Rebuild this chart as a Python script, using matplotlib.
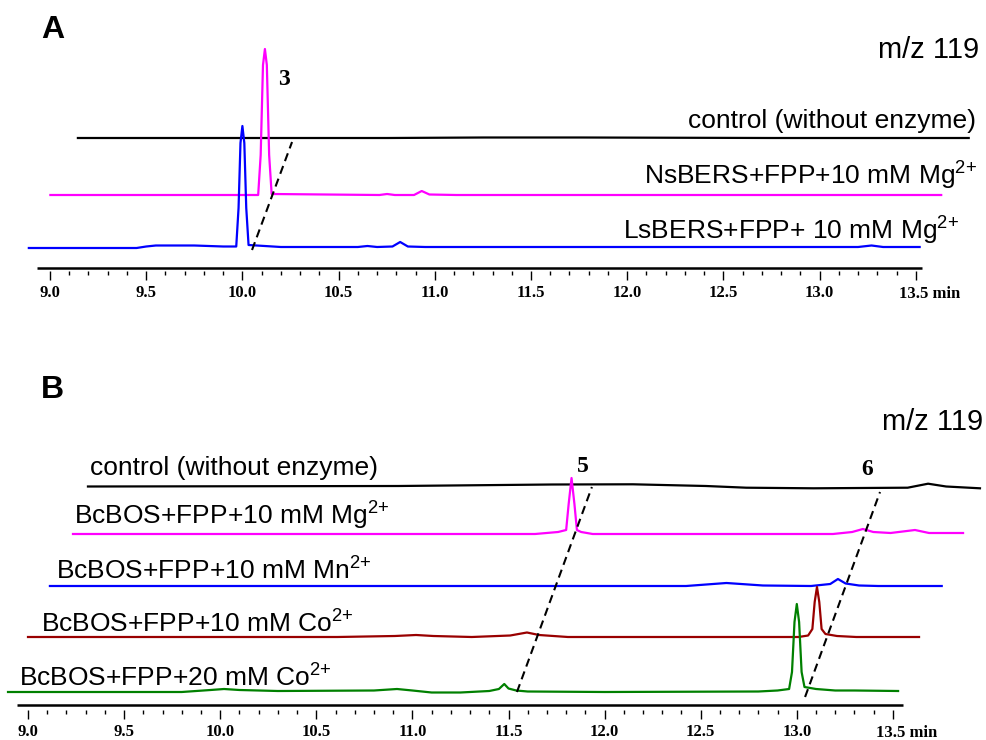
import matplotlib
matplotlib.use("Agg")
import matplotlib.pyplot as plt
from matplotlib.ticker import FixedLocator, FixedFormatter
import numpy as np

plt.rcParams['font.family'] = ['Liberation Sans', 'DejaVu Sans']
plt.rcParams['mathtext.default'] = 'regular'

# ---------------- data (time in min, intensity in arbitrary units) ----------------
# panel A : m/z 119
a_names = ["control (without enzyme)",
           "NsBERS+FPP+10 mM Mg$^{2{+}}$",
           "LsBERS+FPP+ 10 mM Mg$^{2{+}}$"]

a_ctrl_t = [8.89, 10.5, 11.0, 11.5, 12.5, 13.52]
a_ctrl_y = [0, 0, 0.5, 0.5, 0, 0]

a_ns_t = [8.89, 9.97, 9.983, 9.995, 10.005, 10.015, 10.027, 10.04, 10.6, 10.64, 10.68,
          10.78, 10.82, 10.86, 11.0, 13.52]
a_ns_y = [0, 0, 40, 130, 146, 130, 40, 1, 0, 1, 0, 0, 4, 0.5, 0, 0]

a_ls_t = [8.89, 9.45, 9.50, 9.55, 9.75, 9.90, 9.968, 9.98, 9.99, 10.0, 10.01, 10.02, 10.032,
          10.2, 10.6, 10.65, 10.7, 10.78, 10.82, 10.86, 10.95, 12.0, 13.2, 13.27, 13.33, 13.52]
a_ls_y = [0, 0, 1.5, 2.5, 2.5, 1.5, 1.5, 40, 105, 122, 105, 40, 3,
          1, 1, 2, 1, 1.5, 6, 1.5, 1, 1, 1, 2.5, 1, 1]

# panel B : m/z 119
b_names = ["control (without enzyme)",
           "BcBOS+FPP+10 mM Mg$^{2{+}}$",
           "BcBOS+FPP+10 mM Mn$^{2{+}}$",
           "BcBOS+FPP+10 mM Co$^{2{+}}$",
           "BcBOS+FPP+20 mM Co$^{2{+}}$"]

b_ctrl_t = [8.885, 10.5, 11.3, 11.72, 12.1, 12.31, 12.66, 13.15, 13.256, 13.35, 13.526]
b_ctrl_y = [-0.5, 0, 1.5, 1.7, 0, -1.7, -2.3, -1.7, 2.3, -0.5, -2.3]

b_mg_t = [8.896, 11.3, 11.42, 11.462, 11.475, 11.49, 11.505, 11.518, 11.54, 11.6, 12.5,
          12.85, 12.95, 13.006, 13.06, 13.15, 13.277, 13.35, 13.527]
b_mg_y = [0, 0, 2, 4, 30, 56, 30, 4, 2, 0, 0, 0, 2, 5, 2, 1, 4, 1, 1]

b_mn_t = [8.89, 11.0, 12.2, 12.41, 12.6, 12.85, 12.95, 12.99, 13.03, 13.1, 13.2, 13.53]
b_mn_y = [0, 0, 0, 3, 0.5, 0, 2, 7, 2.5, 0.5, 0, 0]

b_co10_t = [8.891, 10.5, 10.8, 10.91, 11.0, 11.2, 11.4, 11.487, 11.55, 11.7, 12.0, 12.9,
            12.95, 12.972, 12.984, 12.996, 13.008, 13.02, 13.04, 13.1, 13.2, 13.527]
b_co10_y = [0, 0, 1, 2, 1, 0, 1.5, 4.5, 2, 0, 0, 0, 1.5, 8, 35, 50, 35, 8, 3, 1, 0, 0]

b_co20_t = [8.896, 9.8, 9.95, 10.02, 10.1, 10.3, 10.8, 10.92, 11.0, 11.1, 11.25, 11.40,
            11.45, 11.478, 11.50, 11.54, 11.6, 12.0, 12.8, 12.9, 12.96, 12.975, 12.988,
            13.0, 13.012, 13.025, 13.04, 13.1, 13.2, 13.3, 13.527]
b_co20_y = [0, 0, 2, 3, 2, 1, 1.5, 3, 1.5, -0.5, -0.5, 1, 3, 8, 3.5, 1.5, 0.5, 0,
            0.5, 1.5, 3, 20, 70, 88, 70, 20, 5, 3, 1.5, 1.5, 1]

ticks_major = [9.0, 9.5, 10.0, 10.5, 11.0, 11.5, 12.0, 12.5, 13.0, 13.5]
tick_labels = ["9.0", "9.5", "10.0", "10.5", "11.0", "11.5", "12.0", "12.5", "13.0", ""]
ticks_minor = [round(9.0 + 0.1 * i, 1) for i in range(46) if i % 5]

# ---------------- layout / style ----------------
W, H = 986, 740
fig = plt.figure(figsize=(W / 100, H / 100), dpi=100)

def fx(x):
    return x / W

def fy(y):
    return 1 - y / H

def make_axis(bottom_px, top_px, t0_px, scale):
    ax = fig.add_axes([0, fy(bottom_px), 1, (bottom_px - top_px) / H])
    ax.set_xlim(9 - t0_px / scale, 9 + (W - t0_px) / scale)
    ax.set_ylim(0, bottom_px - top_px)
    for s in ax.spines.values():
        s.set_visible(False)
    ax.set_yticks([])
    ax.xaxis.set_major_locator(FixedLocator(ticks_major))
    ax.xaxis.set_major_formatter(FixedFormatter(tick_labels))
    ax.xaxis.set_minor_locator(FixedLocator(ticks_minor))
    ax.tick_params(axis='x', which='major', direction='out', length=6.5, width=1.0, pad=3.5)
    ax.tick_params(axis='x', which='minor', direction='out', length=3, width=1.0)
    for lab in ax.get_xticklabels():
        lab.set_fontfamily('Liberation Serif')
        lab.set_fontweight('bold')
        lab.set_fontsize(12)
    ax.patch.set_alpha(0)
    return ax

lw = 1.6
dash = (0, (4, 2.5))

# ---- panel A ----
axA = make_axis(271, 0, 50, 192.4)
axA.plot([8.932, 13.53], [3, 3], color='black', lw=1.8, solid_capstyle='butt')
a_traces = [(a_ctrl_t, a_ctrl_y, 'black', 0.255, 133),
            (a_ns_t, a_ns_y, '#ff00ff', 0.112, 76),
            (a_ls_t, a_ls_y, '#0000ff', 0.0, 23)]
for t, y, c, dx, dy in a_traces:
    axA.plot(np.array(t) + dx, np.array(y) + dy, color=c, lw=lw)
axA.plot([10.05, 10.258], [21, 129], color='black', lw=1.5, ls=dash)

# ---- panel B ----
axB = make_axis(710, 380, 28, 192.2)
axB.plot([8.943, 13.553], [5, 5], color='black', lw=1.8, solid_capstyle='butt')
b_traces = [(b_ctrl_t, b_ctrl_y, 'black', 0.427, 224),
            (b_mg_t, b_mg_y, '#ff00ff', 0.338, 176),
            (b_mn_t, b_mn_y, '#0000ff', 0.224, 124),
            (b_co10_t, b_co10_y, '#990000', 0.109, 73),
            (b_co20_t, b_co20_y, '#008000', 0.0, 18)]
for t, y, c, dx, dy in b_traces:
    axB.plot(np.array(t) + dx, np.array(y) + dy, color=c, lw=lw)
axB.plot([11.544, 11.934], [18, 223], color='black', lw=1.5, ls=dash)
axB.plot([13.043, 13.433], [13, 218], color='black', lw=1.5, ls=dash)

# ---------------- text ----------------
lab_kw = dict(fontsize=19, va='baseline')
num_kw = dict(fontsize=17, va='baseline', ha='center', family='Liberation Serif', fontweight='bold')

fig.text(fx(41), fy(38), "A", fontsize=23, fontweight='bold', va='baseline')
fig.text(fx(41), fy(398), "B", fontsize=23, fontweight='bold', va='baseline')
fig.text(fx(979), fy(58), "m/z 119", fontsize=21, ha='right', va='baseline')
fig.text(fx(983), fy(430), "m/z 119", fontsize=21, ha='right', va='baseline')

fig.text(fx(976), fy(128), a_names[0], ha='right', **lab_kw)
fig.text(fx(977), fy(185), a_names[1], ha='right', **lab_kw)
fig.text(fx(959), fy(240), a_names[2], ha='right', **lab_kw)

b_left = [90, 74, 56, 41, 19]
b_base = [475, 525, 580, 633, 687]
for name, x, y in zip(b_names, b_left, b_base):
    fig.text(fx(x), fy(y), name, ha='left', **lab_kw)

fig.text(fx(284), fy(85), "3", **num_kw)
fig.text(fx(583), fy(472), "5", **num_kw)
fig.text(fx(867), fy(475), "6", **num_kw)

tick_kw = dict(fontsize=12, va='baseline', ha='left', family='Liberation Serif', fontweight='bold')
fig.text(fx(899), fy(298), "13.5 min", **tick_kw)
fig.text(fx(876), fy(737), "13.5 min", **tick_kw)

fig.savefig("out.png", dpi=100)
